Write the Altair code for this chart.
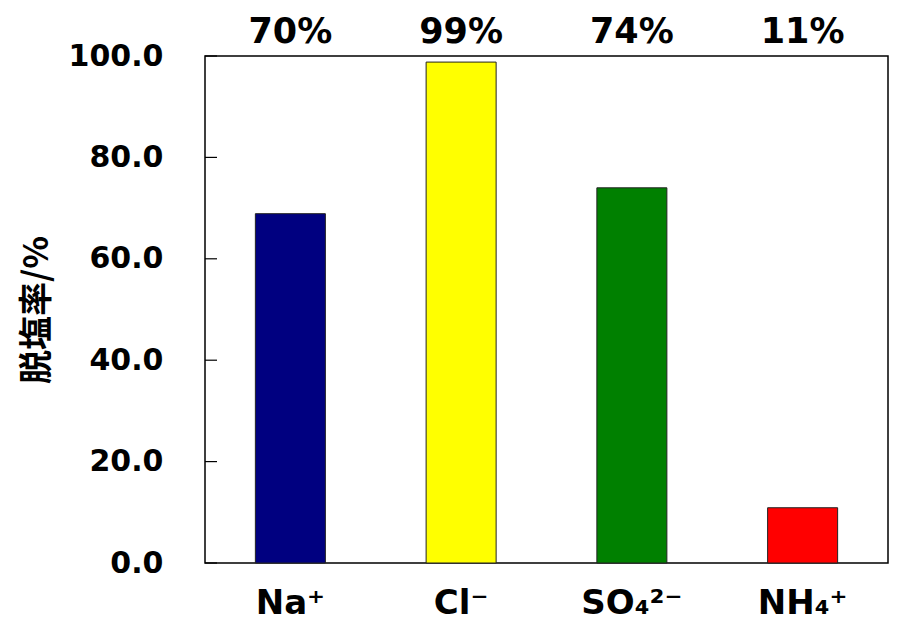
import altair as alt
import pandas as pd

ions = ["Na⁺", "Cl⁻", "SO₄²⁻", "NH₄⁺"]
rates = [68.9, 98.8, 74.0, 10.9]
top_labels = ["70%", "99%", "74%", "11%"]
colors = ["#000080", "#FFFF00", "#008000", "#FF0000"]
y_ticks = [0, 20, 40, 60, 80, 100]

df = pd.DataFrame({"ion": ions, "rate": rates, "label": top_labels, "color": colors})
ticks_df = pd.DataFrame({"t": y_ticks})

FONT = "DejaVu Sans"

x_enc = alt.X("ion:N", sort=None,
              scale=alt.Scale(paddingInner=0.59),
              axis=alt.Axis(title=None, labelAngle=0, ticks=False, tickSize=0, domain=False,
                            labelFont=FONT, labelFontSize=34, labelFontWeight="bold",
                            labelColor="black", labelBaseline="alphabetic", labelPadding=50))
y_scale = alt.Scale(domain=[0, 100], nice=False)

bars = alt.Chart(df).mark_bar(stroke="#222222", strokeWidth=1).encode(
    x=x_enc,
    y=alt.Y("rate:Q", scale=y_scale,
            axis=alt.Axis(title="脱塩率/%", values=y_ticks, format=".1f", grid=False,
                          ticks=False, tickSize=0, domain=False,
                          labelFont=FONT, labelFontSize=30, labelFontWeight="bold",
                          labelColor="black", labelPadding=42,
                          titleFont="Noto Sans CJK JP", titleFontSize=34,
                          titleFontWeight="bold", titleColor="black", titlePadding=14)),
    color=alt.Color("color:N", scale=None),
)

texts = alt.Chart(df).mark_text(font=FONT, fontSize=35, fontWeight="bold", color="black",
                                baseline="alphabetic", dy=-13, clip=False).encode(
    x=alt.X("ion:N", sort=None),
    y=alt.datum(100, scale=y_scale),
    text="label:N",
)

inner_ticks = alt.Chart(ticks_df).mark_rule(color="black", strokeWidth=1.2).encode(
    y=alt.Y("t:Q", scale=y_scale),
    x=alt.value(0),
    x2=alt.value(12),
)

chart = alt.layer(bars, inner_ticks, texts).properties(
    width=683, height=507,
    autosize=alt.AutoSizeParams(type="none"),
    padding={"left": 197, "top": 48, "right": 1, "bottom": 61},
    background="white",
).configure_view(stroke="black", strokeWidth=1.5)

chart.save("out.html", embed_options={"renderer": "svg", "actions": False})
